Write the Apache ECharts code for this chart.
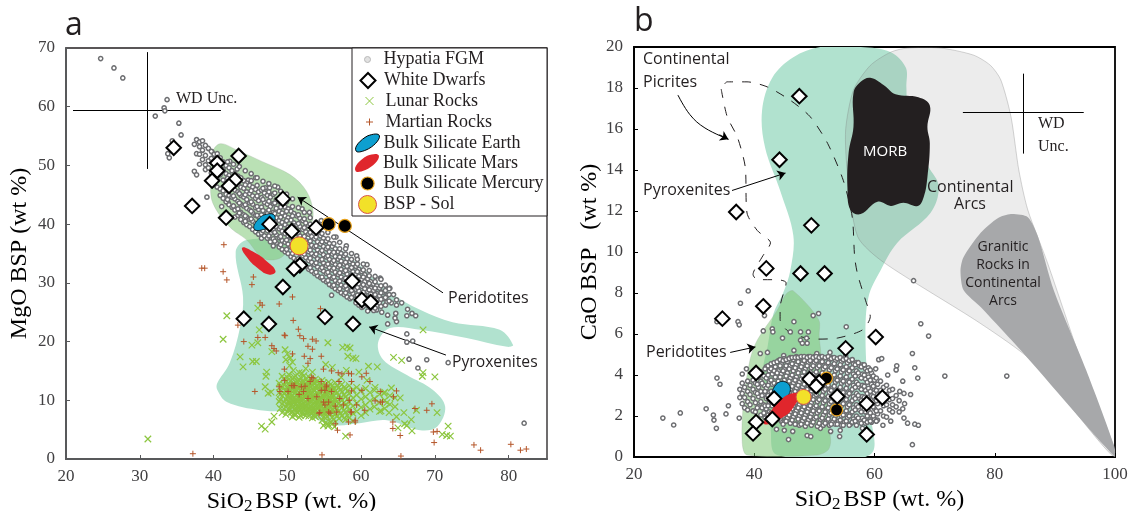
<!DOCTYPE html>
<html><head><meta charset="utf-8">
<style>html,body{margin:0;padding:0;background:#fff}#c{width:1129px;height:511px}</style>
<script src="https://cdn.jsdelivr.net/npm/echarts@6/dist/echarts.min.js"></script>
</head><body><div id="c"></div>
<script>
// ---------- Panel a: values (SiO2, MgO) ----------
const hypatiaAOutliers=[[24.7,68.2],[26.5,66.6],[27.7,64.9],[33.7,61.2],[33.3,59.8],[33.4,59.3],[32.1,58.4],[35.3,57.2],[35.6,55.2],[34.4,54.2],[33.8,52],[34,51.3],[39.1,44.6],[41.1,43],[42,43.6],[56,27.9],[71.8,16.4],[66.2,21.3],[66.2,19.9],[67,20.1],[66.5,17],[68.9,16.9],[67.7,15.5],[82.1,6.1],[63.6,23],[64.7,24.8],[64.8,23.4],[64.6,24],[66.2,24.4],[66.9,24.8],[67.4,24.4],[66.3,25.5],[64.1,26.6],[64.8,27.1],[65.5,26.6],[64.8,26.2],[63.6,24.5],[62.8,25],[62.1,25.4],[45.7,47.9],[47.6,46.2],[48.7,46.3],[47,46.2],[44.7,47.5],[43.2,49.4],[39.8,52.3],[42.2,50.7],[52,42.6],[53,42],[54.6,40.6],[55.6,39.4],[56.6,37.8],[58,36.3],[59.4,34.6],[60.8,33.1],[62.6,30.8],[63.9,29.1],[64.4,28]];
// each row: SiO2 first, then the MgO values of the points read at that SiO2
const hypatiaABand=[
[37.4,53.6,49],[37.7,54.4,52,48.4],[38.1,53.2,54,51.9,50.2],[38.5,54.2,52.6,51],[38.9,53.4,51.7,50.1,49.3],[39.3,52.9,50.8,49.6],[39.7,52.4,51.2,48.7,47.6],[40.1,51.9,50.3,47.9,46.7],[40.5,52,49,47.6,46.3],[40.9,51.3,50.1,48.4,46,44.9],
[41.3,50.6,49.3,47.5,45.7,44.4],[41.7,50,48.6,46.9,45.1,43.8],[42.1,49.6,48.3,47.1,44.9,43.3],[42.5,49.1,47.7,46.2,44.6,42.9],[42.9,48.6,47.4,45.8,44.3,42.4,41.2],[43.3,48.2,46.8,45.5,43.9,42.6,41.5],[43.7,47.9,46.3,44.9,43.4,42,40.8],[44.1,47.4,46.1,44.6,43.1,41.6,40.3],[44.5,47,45.5,44.2,42.7,41.2,39.9],[44.9,46.6,45.2,43.6,42.4,40.8,39.6],
[45.3,46.3,44.8,43.4,41.9,40.5,39.1],[45.7,45.9,44.4,42.8,41.5,40.1,38.7],[46.1,45.5,44,42.5,41.2,39.6,38.3],[46.5,45.8,44.5,42.9,41.6,39.9,38.5,37.6],[46.9,45.3,43.7,42.1,40.8,39.3,38],[47.3,44.9,43.4,41.8,40.4,38.9,37.6],[47.7,44.6,43,41.4,39.9,38.4,37],[48.1,45.1,43.5,42,40.6,39.1,37.5,36.3],[48.5,44.2,42.7,41.1,39.6,38.2,36.8],[48.9,43.8,42.2,40.6,39.2,37.7,36.1],
[49.3,43.3,41.9,40.3,38.8,37.2,35.7],[49.7,42.9,41.4,39.9,38.4,36.9,35.3],[50.1,42.6,41.1,39.5,38,36.6,35],[50.5,42.2,40.7,39.2,37.7,36.1,34.5],[50.9,41.8,40.2,38.7,37.2,35.8,34.2,33.1],[51.3,41.4,39.9,38.4,36.8,35.4,33.9],[51.7,41,39.6,38,36.5,35,33.4],[52.1,40.6,39.1,37.6,36.2,34.6,33.2],[52.5,40.2,38.7,37.2,35.7,34.3,32.8],[52.9,39.7,38.3,36.9,35.3,33.8,32.3],
[53.3,39.4,37.9,36.4,35,33.5,32],[53.7,38.9,37.5,36.1,34.6,33.1,31.6],[54.1,38.5,37,35.6,34.1,32.7,31.2],[54.5,38,36.6,35.2,33.8,32.3,30.9],[54.9,37.6,36.2,34.8,33.4,32,30.5],[55.3,37.1,35.8,34.4,32.9,31.6,30.2],[55.7,36.7,35.3,34,32.6,31.2,29.7],[56.1,36.2,34.9,33.5,32.2,30.8,29.4],[56.5,35.8,34.5,33.1,31.8,30.4,29],[56.9,35.3,34,32.7,31.4,30,28.7],
[57.3,35,33.7,32.3,31,29.6,28.3],[57.7,34.6,33.2,31.9,30.6,29.3,28],[58.1,34.1,32.8,31.5,30.1,28.9,27.6],[58.5,33.6,32.3,31,29.7,28.6,27.3],[58.9,33.2,31.9,30.6,29.4,28.2],[59.3,32.8,31.5,30.2,28.9,27.8,26.6],[59.7,32.3,31.1,29.8,28.6,27.4,26.2],[60.1,31.9,30.6,29.4,28.2,27,25.8],[60.5,31.4,30.2,29,27.8,26.5],[60.9,30.7,29.6,28.5,27.3,26.1,25.2],
[61.3,30.2,29.1,28.1,26.9,25.7],[61.7,29.8,28.7,27.6,26.4,25.3],[62.1,29.5,28.2,27.1,26.1],[62.5,29.1,27.8,26.6],[63,28.4,27.3],[63.5,27.8,26.7]];
const hypatiaABandExtra=[
[41.9,50.6,47.8,46,44.2],[42.7,50.2,48,46.5,44.8,43.1],[43.5,49.8,47.3,45.2,43.6,41.9],[44.3,49.1,46.7,45,43.3,41.4,40.5],[45.1,48.6,47.4,45.7,43.8,42.2,40.9],[45.9,47.9,46.6,44.8,43,41.5,39.3],[46.7,47.3,46.1,44.2,42.3,40.6,38.9],[47.5,46.9,45.5,43.9,42.4,40.9,39.4,38],[48.3,46.5,45.3,43.6,41.8,40.2,38.6,37.1],[49.1,45.6,44.4,42.9,41.2,39.5,37.9,36.5],
[49.9,45.1,43.8,42.2,40.6,38.9,37.3,35.7],[50.7,44.3,43,41.4,39.8,38.3,36.6,35],[51.5,42.8,41.6,40.1,38.6,37.1,35.6,34.1],[52.3,42,40.9,39.4,37.9,36.4,34.9,33.3],[53.1,41.1,40,38.6,37.1,35.6,34.2,32.6],[53.9,40.3,39.2,37.8,36.3,34.9,33.4,31.8],[54.7,39.6,38.4,37,35.5,34,32.6,31],[55.5,38.6,37.5,36.1,34.6,33.2,31.8,30.4],[56.3,37.8,36.7,35.2,33.8,32.5,31,29.6],[57.1,36.9,35.8,34.4,33,31.7,30.3,29],
[57.9,35.8,34.9,33.5,32.1,30.8,29.5,28.3],[58.7,35,34,32.6,31.3,30,28.7,27.5],[59.5,34,33.2,31.9,30.5,29.2,27.9],[60.3,33.2,32.2,31,29.7,28.4,27.2,26],[61.1,32.1,31.2,29.9,28.8,27.5,26.3],[61.9,31.1,30.2,29.1,28,26.8,25.7],[62.7,30.6,29.5,28.3,27.2,26],[63.3,29.6,28.7,27.5,26.2],[63.8,29,28,26.9]];
const whiteDwarfsA=[[34.6,53],[40.5,50.4],[43.4,51.6],[40.5,49.1],[39.8,47.4],[42.9,47.5],[42.1,46.5],[37.1,43.1],[41.7,41.1],[49.4,44.3],[47.6,40],[50.6,38.8],[53.9,39.4],[51.7,33],[50.9,32.4],[49.4,29.3],[58.8,30.3],[60.1,27.1],[61.3,26.7],[55.1,24.2],[58.9,23],[44.1,23.9],[47.5,23]];
const lunarScatter=[[41.8,24.4],[41.3,20.4],[43.6,17.4],[44,15.7],[45.8,16.6],[45.3,16.6],[45.2,19.4],[46,25.7],[46.2,22],[46,19.8],[47.9,18.3],[47.2,14.8],[47.1,14.1],[47,12.3],[47.4,11.2],[47.8,11.4],[48.2,7.3],[47.9,6.3],[46.5,5.6],[47,5.1],[31.1,3.4],[55.5,19.8],[49.7,18.6],[50,17.9],[50.4,17.2],[50.7,16.5],[49.8,16.9],[50.3,15.9],[50.8,15.1],[51.6,14.7],[52.5,15.4],[53.4,14.8],[57.5,19],[58.1,19.1],[58.5,18.9],[58.9,17.2],[59.3,17.1],[58.2,17.5],[61,15.8],[62.2,15.7],[64.4,17.3],[65.5,16.8],[68.4,22],[68.4,14.7],[68.3,14.1],[70,14],[71.8,5.6],[71,4.2],[71.6,4],[72.1,3.9],[70.3,7.9],[67.5,8.3],[66.8,6.7],[66.9,4.8],[65,5.3],[65.9,6],[66.2,5.7],[64.8,7.2],[65.8,7.9],[63.8,7.9],[62.7,8.2],[58,15.1],[59.7,14.8],[57.3,13.9],[56.1,15.6],[55.2,16.1],[61.9,12.2],[63.1,11.2],[64.1,12.1],[65.3,10.4],[60.8,13.4],[63.5,9.6],[57.9,3.9],[56.4,5.5],[54.9,5.7],[55.5,5.6]];
const lunarBlob=[
[48.9,12.9,11.3,9.8],[49.3,14.1,12.2,10.7,9.4,7.9],[49.8,13.2,11.8,10.2,8.9,7.6],[50.2,14.4,12.9,11.1,9.9,8.4],[50.7,13.6,12.1,10.8,9.3,8,7.2],[51.1,14.2,12.6,11.4,10.1,8.7,7.5],[51.6,13.4,12,10.5,9.6,8.2,7.1],[52,14.6,12.8,11.2,9.9,8.8,7.7],[52.5,13.7,12.3,10.9,9.2,8.3,7.4],[52.9,14,12.5,11.5,10.1,8.6,7.3],
[53.4,13.2,11.9,10.6,9.4,8.1,7],[53.8,13.6,12.2,11,9.7,8.4,7.2],[54.3,12.9,11.6,10.3,9.1,7.8],[54.7,13.4,12,10.8,9.5,8.2,6.6],[55.2,12.7,11.3,10,8.8,7.5,6.2],[55.6,13.1,11.8,10.4,9.2,7.9,5.8],[56.1,12.5,11.1,9.9,8.5,7.1,6],[56.5,13,11.6,10.2,8.9,7.6],[57,12.2,10.9,9.5,8.2,6.9],[57.4,12.7,11.4,10,8.7,7.3],
[57.9,12,10.6,9.3,8,6.7],[58.4,12.5,11.1,9.7,8.4,7],[58.9,11.8,10.4,9,7.8,6.5],[59.4,12.2,10.9,9.5,8.1],[60,11.6,10.2,8.8,7.4],[60.6,12,10.6,9.2,7.9],[61.2,11.3,9.9,8.5],[61.8,11.7,10.3,8.9],[62.5,11,9.6,8.1],[63.2,11.4,10,8.6],[63.9,10.8,9.3],[64.6,10.4,8.9]];
const lunarBlobDense=[
[49.05,12.3,11,10.1,8.6],[49.55,13.6,12.6,11.2,9.7,8.5],[50,13.9,12.3,11.5,10.6,9.4,8.1],[50.45,13.3,12.4,11.6,10.4,9.1,7.9],[50.9,14,12.9,11.7,10.3,9.6,8.5,7.6],[51.35,13.2,12.2,11,9.8,8.9,7.9],[51.8,13.9,12.5,11.6,10.6,9.2,8.4,7.4],[52.25,14.2,13.1,12,10.7,9.5,8.5,7.6],[52.7,13.2,12,11.2,10.1,9,7.9],[53.15,13.6,12.2,11,9.9,8.9,7.8],
[53.6,12.9,11.7,10.8,9.6,8.6,7.5],[54.05,13.2,12.4,11.2,9.9,8.7,7.5],[54.5,12.5,11.3,10.1,9.2,8],[54.95,13,11.9,10.7,9.4,8.4,7.2],[55.4,12.2,11,9.8,8.6,7.2,6],[55.85,12.7,11.5,10.3,9,7.7,6.3],[56.3,12,10.7,9.5,8.1,6.7],[56.75,12.4,11.3,9.8,8.6,7.4],[57.2,11.8,10.4,9.1,7.8],[57.7,12.2,10.9,9.6,8.3,7],[58.15,11.6,10.2,8.9,7.4]];
const lunarBlobCore=[
[50.25,13.6,12.5,11.4,10.5,9.5,8.7],[50.7,12.6,11.5,10.2,9.8,8.8],[51.2,13,11.8,10.9,9.5,8.3],[51.55,12.7,11.3,10.2,9,8.6],[52.05,13.2,12.2,10.8,10.4,9.3,8.1],[52.45,12.5,11.6,10.5,9.7,8.9],[52.85,13.1,11.9,10.8,9.4,8.2],[53.3,12.6,11.4,10.3,9.2,8.4],[53.75,13,11.7,10.4,9.1,8.1],[54.2,12.2,11,9.9,8.9],[54.65,12.5,11.6,10.4,9,8.1],[55.1,12.1,11,9.7,8.5,7.8],[55.5,11.4,10.2,9.5,8.3],[56,11.9,10.6,9.3,8.1],[56.4,11.4,10,8.7,7.6]];
const martianRocks=[[38.4,32.5],[38.8,32.5],[41.3,31.9],[41.8,30.5],[45.4,31],[45.2,29.7],[41.4,36.5],[37.2,.9],[54.7,.7],[50.7,27.6],[48.9,26.4],[46.3,26.6],[46.6,26.2],[54.5,25.6],[43.3,22.8],[44.1,20],[46,20.7],[47,20.7],[47.9,19.3],[48.2,18.8],[48.5,18.4],[49.6,21.1],[49.6,15.3],[49.6,13.4],[48.9,12.3],[49,11.5],[50.1,11.5],[45.6,11.5],[50.6,12.5],[51,12.5],[51.9,12.3],[52.4,12.4],[51.6,11],[52.2,11.5],[53.5,13.8],[53.1,13.2],[52.8,10.3],[54,10.6],[54.3,7.8],[54.6,13.2],[55.3,12.6],[55.1,11.7],[54.9,9.7],[55.6,9.7],[55.1,9.2],[55.6,8],[56.5,9],[57.1,10.3],[57.6,9.2],[56.8,4.9],[58.3,14.6],[56.9,14.7],[57.4,14.5],[58.7,14.5],[58.5,4.1],[58.3,6.3],[59.2,6.3],[58.4,10],[58.7,8],[57,13.2],[54.9,15.3],[56,15],[60.1,14],[60.7,14.6],[61.2,13.2],[58.7,13.2],[53.3,13.9],[50.8,12.5],[54.6,11.7],[55.3,12.3],[56,11.5],[58.7,11.6],[60.1,11.7],[62.6,11.5],[64.8,11.6],[64.4,10.6],[62.6,9.7],[62.9,9.7],[61.9,9.9],[59.4,9.2],[60.5,8.3],[58.6,8],[56.7,8],[55.8,7.8],[54.4,7.9],[59.2,6.6],[56.5,6],[64.3,6.3],[64.3,5.2],[65.3,4],[67.3,8.6],[68.9,8.3],[69.6,9.4],[69.8,4.6],[70.3,4.7],[69.9,2.8],[75.3,2.4],[76.2,1.5],[80.3,2.5],[81.6,1.5],[82.4,1.7],[65.4,.5],[50.8,23.6],[51.5,22.1],[49.7,21],[51.7,21],[52.2,20.5],[53.4,20.4],[53.9,20.1],[52.8,19.2],[53.4,18.7],[54.6,17.5],[52.3,17.5],[50.7,17.9],[53.1,17.1],[52.8,16.3]];
const peridotitesA=[[40.9,53.7],[43.2,52.6],[46.7,50.6],[50.4,48.4],[52.6,45.6],[53.5,42],[53,39.4],[50.8,36.6],[49,34.2],[46.7,34.2],[44.5,37.3],[42.2,39.5],[39.9,43.6],[39.6,47.5],[39.8,52.1]];
const pyroxenitesA=[[43,35.3],[44.5,37.3],[50.4,37.3],[54.8,37.6],[58.5,34.4],[63.9,28.4],[68,25.4],[72.4,23.3],[78.8,22],[80.6,19.4],[79.8,19.1],[74.3,20.6],[68,22],[63.9,22.3],[62.3,19.8],[63,16.9],[66.2,14.3],[69.7,11.8],[71.4,8.9],[70.3,5.5],[68,4.9],[63.5,6.6],[59.8,6.1],[56.2,5.8],[51.7,7.8],[46.3,8.3],[41.8,9.7],[40.5,11.8],[40.5,12.9],[42.2,16.4],[43.6,22.5],[44,27.6]];
const earthA=[[45.5,39.2],[45.9,40.6],[47.2,41.7],[48.3,41.4],[47.9,40],[46.5,39]];
const marsA=[[43.9,36],[45.5,35.2],[47.2,33.7],[48.4,32],[47.6,31.4],[46,32.5],[44.5,34.4]];
const mercuryA=[[55.6,40],[57.8,39.7]];
const solA=[[51.6,36.3]];
// ---------- Panel b: values (SiO2, CaO) ----------
const hypatiaBOutliers=[[24.8,1.9],[26.6,1.56],[27.7,2.15],[32,2.35],[33.2,2.05],[33.3,1.8],[33.7,1.4],[33.8,3.85],[34.3,3.55],[35.3,2.1],[35.7,2.5],[37.5,1.9],[33.8,6.6],[37.3,6.6],[37.5,6.45],[39,8.1],[37.7,7.5],[41.7,6.9],[41.5,6.15],[43,6.25],[43.1,6.1],[44.7,5.8],[46.6,6.6],[46,6.1],[47.7,6.1],[49,6.1],[47.7,5.7],[48.7,5.8],[48,5.55],[48.8,5.55],[49.8,6.9],[50.7,7],[55.3,6.35],[38,4.05],[38.7,4.3],[41,5.05],[42.2,5.1],[45.7,.85],[48.8,1.05],[49.4,1],[54.2,1],[54.3,1.3],[58,1.4],[66.3,5.05],[66.7,4.35],[67.2,3.85],[64.7,3.7],[63.7,4.45],[63.6,4.25],[62.2,4],[60.2,4.3],[60.7,4.75],[61.2,4.8],[64.2,3.2],[64.9,3.1],[66,3.05],[65,2.6],[64.7,2.35],[64.9,1.9],[65.5,1.65],[66.7,1.6],[67.3,1.55],[66.3,.6],[66.5,8.6],[67.7,6.5],[69,5.9],[71.7,3.95],[82,3.95],[63,2.55],[62.7,1.75],[61.4,1.55],[43.7,1.35],[45,1.3],[46.4,1.25],[51,1.4],[52.7,1.25],[50.4,5.05],[52.6,5.1],[55.2,4.95],[44.9,4.95],[46.6,5.2]];
// each row: SiO2 first, then the CaO values of the points read at that SiO2
const hypatiaBCloud=[
[37.6,3.3,2.9],[38,3.6,3.1,2.6],[38.4,3.4,2.9,2.4],[38.9,3.7,3.2,2.7,2.3],[39.3,3.5,3.05,2.55],[39.8,3.75,3.3,2.85,2.25],[40.2,3.6,3.15,2.65,2.2],[40.7,3.9,3.4,2.95,2.45],[41.1,4.15,3.7,3.2,2.7,2.05],[41.6,3.95,3.5,3.05,2.55,2.15],
[42,4.4,3.85,3.35,2.85,2.35,1.95],[42.5,4.2,3.65,3.15,2.65,2.2],[43,4.5,4.05,3.55,3.05,2.5,1.85],[43.5,4.4,3.9,3.3,2.8,2.25,1.8],[44,4.7,4.2,3.7,3.15,2.6,2.1],[44.5,4.55,4.05,3.5,2.95,2.4,1.75],[45,4.8,4.3,3.75,3.25,2.7,2.15,1.7],[45.5,4.65,4.1,3.55,3,2.45,1.9],[46,4.85,4.45,3.85,3.3,2.75,2.2,1.65],[46.5,4.75,4.2,3.6,3.1,2.5,1.95],
[47,4.9,4.5,3.9,3.35,2.8,2.25,1.6],[47.5,4.8,4.25,3.65,3.15,2.55,2,1.55],[48,4.85,4.55,3.95,3.4,2.85,2.3,1.75],[48.5,4.75,4.3,3.7,3.2,2.6,2.05,1.5],[49,4.9,4.6,4,3.45,2.9,2.35,1.8],[49.5,4.8,4.35,3.75,3.2,2.65,2.1,1.55],[50,4.9,4.6,4.05,3.5,2.95,2.4,1.85],[50.5,4.8,4.35,3.8,3.25,2.7,2.15,1.5],[51,4.9,4.55,4,3.45,2.9,2.35,1.8],[51.5,4.8,4.3,3.75,3.2,2.65,2.05,1.55],
[52,4.85,4.5,3.95,3.4,2.85,2.3,1.75],[52.5,4.75,4.25,3.7,3.15,2.6,2.05,1.55],[53,4.85,4.45,3.9,3.35,2.8,2.25,1.7],[53.5,4.7,4.2,3.65,3.1,2.55,2,1.6],[54,4.8,4.4,3.85,3.3,2.75,2.2,1.75],[54.5,4.65,4.15,3.6,3.05,2.5,2,1.55],[55,4.75,4.35,3.8,3.25,2.7,2.15,1.7],[55.5,4.6,4.1,3.55,3,2.45,1.9],[56,4.7,4.3,3.75,3.2,2.65,2.1,1.6],[56.5,4.55,4.05,3.5,2.95,2.4,1.85],
[57,4.6,4.2,3.65,3.1,2.55,2,1.55],[57.5,4.45,3.95,3.4,2.85,2.3,1.8],[58,4.5,4.05,3.5,2.95,2.4,1.9],[58.5,4.3,3.8,3.25,2.7,2.2,1.65],[59,4.35,3.9,3.35,2.8,2.25,1.75],[59.5,4.1,3.55,3,2.5,2,1.7],[60,3.75,3.3,2.85,2.35,1.85],[60.5,3.55,3.05,2.6,2.1,1.8],[61,3.7,3.25,2.75,2.25],[61.5,3.4,2.95,2.5,2],[62,3.5,3.05,2.55,1.95],[62.5,3.25,2.8,2.3],[63,3.3,2.85,2.2],[63.6,3,2.45],[64.1,2.75,2.2]];
const hypatiaBCloudExtra=[
[40.5,3.55,3.1,2.4],[41.3,3.6,3,2.4],[41.8,4.3,3.2,2.5,1.9],[42.3,4.45,4,3.5,3,2.5,2.05],[42.8,4.55,4.3,3.75,3.2,2.7,2.15],[43.3,4.6,4.2,3.6,3.1,2.6,2],[43.8,4.65,4.1,3.5,2.95,2.45,1.95],[44.3,4.75,4.45,3.9,3.35,2.85,2.3,1.85],[44.8,4.7,4.2,3.6,3.05,2.55,2,1.6],[45.3,4.75,4.45,3.95,3.4,2.85,2.3,1.75],
[45.8,4.8,4.3,3.7,3.15,2.6,2.05],[46.3,4.85,4.55,4,3.45,2.9,2.35,1.8],[46.8,4.85,4.35,3.75,3.2,2.65,2.1,1.6],[47.3,4.85,4.65,4.1,3.5,2.95,2.4,1.85],[47.8,4.9,4.4,3.8,3.25,2.7,2.15,1.6],[48.3,4.9,4.7,4.15,3.55,3,2.45,1.9],[48.8,4.85,4.45,3.85,3.3,2.75,2.2,1.65],[49.3,4.9,4.7,4.15,3.6,3.05,2.5,1.95],[49.8,4.85,4.45,3.9,3.35,2.8,2.25,1.7],[50.3,4.9,4.7,4.15,3.6,3.05,2.5,1.95],
[50.8,4.85,4.45,3.9,3.35,2.8,2.25,1.65],[51.3,4.9,4.65,4.1,3.55,3,2.45,1.9],[51.8,4.85,4.4,3.85,3.3,2.75,2.2,1.65],[52.3,4.9,4.6,4.05,3.5,2.95,2.4,1.85],[52.8,4.8,4.35,3.8,3.25,2.7,2.15,1.6],[53.3,4.85,4.55,4,3.45,2.9,2.35,1.85],[53.8,4.8,4.3,3.75,3.2,2.65,2.1,1.6],[54.3,4.85,4.5,3.95,3.4,2.85,2.3,1.8],[54.8,4.75,4.25,3.7,3.15,2.6,2.05,1.55],[55.3,4.8,4.4,3.9,3.35,2.8,2.25,1.75],
[55.8,4.7,4.2,3.65,3.1,2.55,2,1.55],[56.3,4.75,4.35,3.8,3.3,2.75,2.2,1.7],[56.8,4.5,3.95,3.4,2.85,2.3,1.75],[57.3,4.6,4.1,3.55,3,2.45,1.9],[57.8,4.4,3.85,3.3,2.75,2.2,1.65],[58.3,4.5,4,3.45,2.9,2.35,1.8],[58.8,4.2,3.65,3.1,2.55,2,1.7],[59.3,4.25,3.75,3.2,2.65,2.15,1.75],[59.8,3.95,3.45,2.95,2.45,2],[60.3,3.85,3.25,2.75,2.25,1.75]];
const whiteDwarfsB=[[47.5,17.6],[44.2,14.5],[37,11.95],[49.5,11.3],[42,9.2],[47.7,8.95],[51.7,8.95],[41.5,7.35],[34.7,6.75],[60.2,5.85],[55.2,5.3],[40.3,4.1],[49.2,3.8],[50.8,3.65],[50.3,3.45],[43.3,2.85],[53.8,2.95],[58.7,2.6],[61.3,2.9],[43,1.85],[40.3,1.7],[39.8,1.15],[58.7,1.1]];
const pyroxenitesB=[[51,20],[57.7,20],[62.7,19.75],[65.2,19],[65.3,18.05],[65.7,16],[69,14.15],[70.7,13.2],[69.3,11.9],[63.8,10.45],[61,9.1],[59,7.8],[58.5,5.85],[59,2.6],[59.2,.1],[43.8,.1],[42.7,1.45],[41.5,4.25],[42.2,5.35],[43.2,7],[44.8,8],[46,9.1],[46.5,10.8],[44.3,13],[41.8,15.1],[41.3,16.9],[43,18.5],[46.5,19.5]];
const peridotitesB=[[46.5,8.1],[50.7,6.7],[50.8,5.85],[52.7,.85],[52.3,.35],[50.5,.1],[38.8,.1],[38,.7],[38.2,2.65],[39.3,4.75],[40.5,5.7],[43.8,7.15],[45.3,7.95]];
const continentalArcs=[[62.7,19.75],[65.5,19.95],[71,19.95],[76.5,19.6],[79.3,19.1],[81,18.4],[82.7,16.6],[84,14],[85.5,12.05],[88.8,9.45],[94.3,4.7],[100,0],[86.5,4.6],[77.7,6.5],[61.5,9.5],[57.2,10.75],[55.5,13.85],[55.2,15.95],[56.5,17.9],[59.3,19.1]];
const graniticRocks=[[82.7,11.85],[85.5,11.7],[87.2,10.75],[89.8,8.15],[95.2,4.25],[99.8,.6],[100,0],[84.8,5.05],[77.7,7.3],[74.8,8.15],[74.3,9.1],[74.8,9.75],[77.7,10.95],[80.5,11.65]];
const morb=[[59.3,18.5],[61.5,18.15],[63.5,17.7],[67.3,17.55],[69.2,17.15],[68.8,16.1],[69.2,15.3],[68.8,13.65],[68.2,12.7],[67.2,12.25],[64.8,12.4],[62.7,12.25],[60.5,12.45],[57.7,11.85],[56,12.05],[55.5,13.15],[55.7,14.85],[56.5,16.1],[56.5,17.75],[57.7,18.3]];
const picrites=[[34.5,17.95],[35.5,16.6],[37.2,15.6],[38.5,14.15],[38.8,11.9],[40.5,11.05],[42.7,10.45],[41.3,9.75],[39.8,8.9],[40.5,8.65],[43.8,8.65],[45.3,8.5],[44.3,7.3],[44.3,6.7],[46,6.05],[50.2,5.75],[53.8,5.8],[58,6.2],[59.3,6.85],[58.5,7.65],[57.2,8.9],[56.7,9.75],[56.3,11.7],[54.8,13.5],[52.2,15.3],[49.3,16.6],[46,17.4],[42.2,18.05],[38.8,18.3],[35.5,18.3],[34.5,17.95]];
const picriteArrowCurve=[[27.3,17.66],[29.3,16.7],[31.8,16.05],[35.7,15.5]];
const earthB=[[45.2,3.66],[45.8,3.07],[43.5,2.7],[43.2,3.35]];
const marsB=[[47.6,3.05],[46.9,2.6],[45.1,2],[41.7,1.6],[42.8,2.25],[44.2,2.75],[46.2,3.1]];
const mercuryB=[[52,3.85],[53.7,2.3]];
const solB=[[48.2,2.93]];
// ---------- labels and ticks ----------
const ticksAx=10, ticksAy=10, ticksBx=20, ticksBy=2;
const legendNames=['Hypatia FGM','White Dwarfs','Lunar Rocks','Martian Rocks','Bulk Silicate Earth','Bulk Silicate Mars','Bulk Silicate Mercury','BSP - Sol'];

const expand=rows=>rows.flatMap(([x,...ys])=>ys.map(y=>[x,y]));
const serif='"Liberation Serif",serif', sans='"Open Sans",sans-serif', ink='#231f20', tickInk='#414042';
const X_PATH='path://M0 0L10 10M10 0L0 10', PLUS_PATH='path://M5 0L5 10M0 5L10 5';
const OVAL_PATH='path://M1 18C-2 14 6 6 14 2C20 0 26 -1 27 2C28 6 20 14 12 17C7 19 2 20 1 18Z';

function region(name,pts,g,fill,stroke,smooth,z){return {type:'custom',name,coordinateSystem:'cartesian2d',xAxisIndex:g,yAxisIndex:g,data:pts,z,silent:true,clip:true,
  itemStyle:{color:fill},
  renderItem(p,api){ if(p.dataIndex!==0) return null;
    return {type:'polygon',shape:{points:pts.map(q=>api.coord(q)),smooth:smooth},style:{fill,stroke:stroke||'none',lineWidth:stroke?0.7:0}}; }};}
function hyp(pts,g){return {type:'scatter',name:legendNames[0],xAxisIndex:g,yAxisIndex:g,data:pts,z:6,symbol:'circle',symbolSize:4.2,silent:true,itemStyle:{color:'#fff',borderColor:'#6d6e71',borderWidth:1.5,opacity:1}};}
function wd(pts,g){return {type:'scatter',name:legendNames[1],xAxisIndex:g,yAxisIndex:g,data:pts,z:10,symbol:'diamond',symbolSize:14.5,silent:true,itemStyle:{color:'#fff',borderColor:'#000',borderWidth:2,opacity:1}};}
function merc(pts,g,s){return {type:'scatter',name:legendNames[6],xAxisIndex:g,yAxisIndex:g,data:pts,z:8,symbol:'circle',symbolSize:s,silent:true,itemStyle:{color:'#000',borderColor:'#e8a21c',borderWidth:1.2,opacity:1}};}
function sol(pts,g,s){return {type:'scatter',name:legendNames[7],xAxisIndex:g,yAxisIndex:g,data:pts,z:8,symbol:'circle',symbolSize:s,silent:true,itemStyle:{color:'#f2e129',borderColor:'#d8544a',borderWidth:1,opacity:1}};}
function notes(g,lines){return {type:'scatter',name:'notes'+g,xAxisIndex:g,yAxisIndex:g,data:[],z:9,silent:true,
  markLine:{silent:true,animation:false,symbol:['none','none'],label:{show:false},emphasis:{disabled:true},lineStyle:{color:'#000',width:1,type:'solid'},data:lines.map(l=>[
    {coord:l.from,symbol:'none'},
    {coord:l.to,symbol:l.arrow?'arrow':'none',symbolSize:8}])}};}
function txt(text,x,y,o){return Object.assign({type:'text',x,y,z:12,silent:true,style:Object.assign({text,font:'16px '+sans,fill:ink,textVerticalAlign:'middle',textAlign:'left'},o||{})});}

const rowY=[59.5,80.5,101,122,142.5,163,183.5,204];
const legendSpec=[
 {icon:'circle',w:6,h:6,st:{color:'#e1e1e1',borderColor:'#b9b9b9',borderWidth:1}},
 {icon:'diamond',w:15,h:15,st:{color:'#fff',borderColor:'#000',borderWidth:2}},
 {icon:X_PATH,w:8,h:8,st:{color:'none',borderColor:'#8cc63f',borderWidth:1}},
 {icon:PLUS_PATH,w:7,h:7,st:{color:'none',borderColor:'#b5562a',borderWidth:1}},
 {icon:OVAL_PATH,w:24,h:18,st:{color:'#0d9fd0',borderColor:'#000',borderWidth:1}},
 {icon:OVAL_PATH,w:24,h:18,st:{color:'#e0262c',borderWidth:0}},
 {icon:'circle',w:13,h:13,st:{color:'#000',borderColor:'#e8a21c',borderWidth:1.2}},
 {icon:'circle',w:18,h:18,st:{color:'#f2e129',borderColor:'#d8544a',borderWidth:1}}];
const legends=legendSpec.map((s,i)=>({show:true,selectedMode:false,orient:'vertical',z:14,padding:0,itemGap:0,
  left:367-s.w/2,top:rowY[i]-Math.max(s.h,18)/2,itemWidth:s.w,itemHeight:s.h,symbolKeepAspect:false,
  textStyle:{fontFamily:serif,fontSize:18,color:ink,padding:[0,0,0,11-s.w/2],lineHeight:18},
  data:[{name:legendNames[i],icon:s.icon,itemStyle:s.st}]}));

const nameStyle={fontFamily:serif,fontSize:24,color:'#000',rich:{a:{fontFamily:serif,fontSize:24,color:'#000'},s:{fontFamily:serif,fontSize:17,color:'#000',verticalAlign:'bottom',padding:[10,3,0,0]}}};
function xA(g,max,itv,pad,col,w,gap){return {type:'value',gridIndex:g,min:20,max,interval:itv,splitLine:{show:false},name:'{a|SiO}{s|2}{a|BSP (wt. %)}',nameLocation:'middle',nameGap:gap,
  nameTextStyle:Object.assign({},nameStyle,{padding:pad}),axisLine:{show:true,onZero:false,lineStyle:{color:col,width:w}},axisTick:{inside:true,length:4,lineStyle:{color:col,width:1}},
  axisLabel:{fontFamily:serif,fontSize:17,color:tickInk,margin:9,showMaxLabel:max%itv===0}};}
function yA(g,max,itv,name,gap,col,w){return {type:'value',gridIndex:g,min:0,max,interval:itv,splitLine:{show:false},name,nameLocation:'middle',nameGap:gap,
  nameTextStyle:nameStyle,axisLine:{show:true,onZero:false,lineStyle:{color:col,width:w}},axisTick:{inside:true,length:4,lineStyle:{color:col,width:1}},
  axisLabel:{fontFamily:serif,fontSize:17,color:tickInk,margin:11}};}

const option={animation:false,backgroundColor:'#fff',
 grid:[{left:66,top:48,width:481,height:411,outerBoundsMode:'none',show:true,borderColor:'#231f20',borderWidth:1.3,backgroundColor:'transparent'},
       {left:634,top:47,width:481,height:410,outerBoundsMode:'none',show:true,borderColor:'#000',borderWidth:1.8,backgroundColor:'transparent'}],
 xAxis:[xA(0,85.2,ticksAx,[0,30,0,0],'#58595b',2,25),xA(1,100,ticksBx,[0,0,0,10],'#000',1.8,25)],
 yAxis:[yA(0,70,ticksAy,'MgO BSP (wt %)',34,'#58595b',2),yA(1,20,ticksBy,'CaO BSP   (wt %)',30,'#000',1.8)],
 legend:legends,
 series:[
  region('Pyroxenites a',pyroxenitesA,0,'#b1e2cf',null,0.35,1),
  region('Peridotites a',peridotitesA,0,'rgba(130,200,120,0.55)','rgba(150,170,150,0.4)',0.35,2),
  {type:'scatter',name:legendNames[2],xAxisIndex:0,yAxisIndex:0,data:lunarScatter.concat(expand(lunarBlob),expand(lunarBlobDense),expand(lunarBlobCore)),z:3,symbol:X_PATH,symbolSize:6.5,silent:true,itemStyle:{color:'none',borderColor:'#8cc63f',borderWidth:1.2,opacity:1}},
  {type:'scatter',name:legendNames[3],xAxisIndex:0,yAxisIndex:0,data:martianRocks,z:4,symbol:PLUS_PATH,symbolSize:6,silent:true,itemStyle:{color:'none',borderColor:'#b5562a',borderWidth:1,opacity:1}},
  hyp(hypatiaAOutliers.concat(expand(hypatiaABand),expand(hypatiaABandExtra)),0),
  region(legendNames[4],earthA,0,'#0d9fd0','#000',0.5,7),
  region(legendNames[5],marsA,0,'#e0262c',null,0.5,7),
  merc(mercuryA,0,13),sol(solA,0,18),wd(whiteDwarfsA,0),
  notes(0,[{from:[20.95,59.45],to:[41,59.45]},{from:[31,69.3],to:[31,49.4]},{from:[71.1,28.3],to:[51.4,44.6],arrow:1},{from:[71.5,17.7],to:[61.1,22.5],arrow:1}]),

  region('Pyroxenites b',pyroxenitesB,1,'#b1e2cf',null,0.35,1),
  region('Peridotites b',peridotitesB,1,'rgba(130,200,120,0.55)','rgba(150,170,150,0.4)',0.3,2),
  region('Continental Arcs',continentalArcs,1,'rgba(120,120,120,0.14)','rgba(120,120,120,0.45)',0.25,3),
  region('Granitic Rocks',graniticRocks,1,'#a7a8aa',null,0.25,4),
  region('MORB',morb,1,'#231f20',null,0.4,4),
  {type:'line',name:'Continental Picrites',xAxisIndex:1,yAxisIndex:1,data:picrites,z:5,symbol:'none',smooth:0.25,silent:true,lineStyle:{color:'#231f20',width:1,type:[9,9]}},
  {type:'line',name:'Picrites arrow',xAxisIndex:1,yAxisIndex:1,data:picriteArrowCurve,z:9,symbol:'none',smooth:0.4,silent:true,lineStyle:{color:'#000',width:1}},
  hyp(hypatiaBOutliers.concat(expand(hypatiaBCloud),expand(hypatiaBCloudExtra)),1),
  region(legendNames[4]+' ',earthB,1,'#0d9fd0','#000',0.6,7),
  region(legendNames[5]+' ',marsB,1,'#e0262c',null,0.5,7),
  merc(mercuryB,1,12),sol(solB,1,15),wd(whiteDwarfsB,1),
  notes(1,[{from:[74.7,16.8],to:[94.8,16.8]},{from:[84.7,18.7],to:[84.7,14.8]},{from:[36.3,13],to:[45.2,13.85],arrow:1},{from:[36,5.1],to:[40.2,5.37],arrow:1},{from:[34.2,15.72],to:[35.7,15.5],arrow:1}])
 ],
 graphic:[
  {type:'rect',z:3,zlevel:0,silent:true,shape:{x:352,y:48,width:195,height:168},style:{fill:'#fff',stroke:ink,lineWidth:1}},
  txt('a',65,26,{font:'32px '+sans}),txt('b',634,22,{font:'32px '+sans}),
  txt('WD Unc.',176,99,{font:'16px '+serif}),
  txt('Peridotites',448,298),txt('Pyroxenites',452,363,{font:'15.7px '+sans}),
  txt('Continental',643,59),txt('Picrites',643,82),txt('Pyroxenites',643,190),txt('Peridotites',646,352),
  txt('MORB',863,152,{fill:'#fff',font:'15px '+sans}),txt('Continental',927,187),txt('Arcs',970,204,{textAlign:'center'}),
  txt('WD',1038,124,{font:'16px '+serif}),txt('Unc.',1038,147,{font:'16px '+serif}),
  txt('Granitic',1003,247,{font:'14px '+sans,textAlign:'center'}),txt('Rocks in',1003,265,{font:'14px '+sans,textAlign:'center'}),
  txt('Continental',1003,283,{font:'14px '+sans,textAlign:'center'}),txt('Arcs',1003,301,{font:'14px '+sans,textAlign:'center'})
 ]};
const chart=echarts.init(document.getElementById('c'),null,{renderer:'canvas'});
chart.setOption(option);
</script></body></html>
